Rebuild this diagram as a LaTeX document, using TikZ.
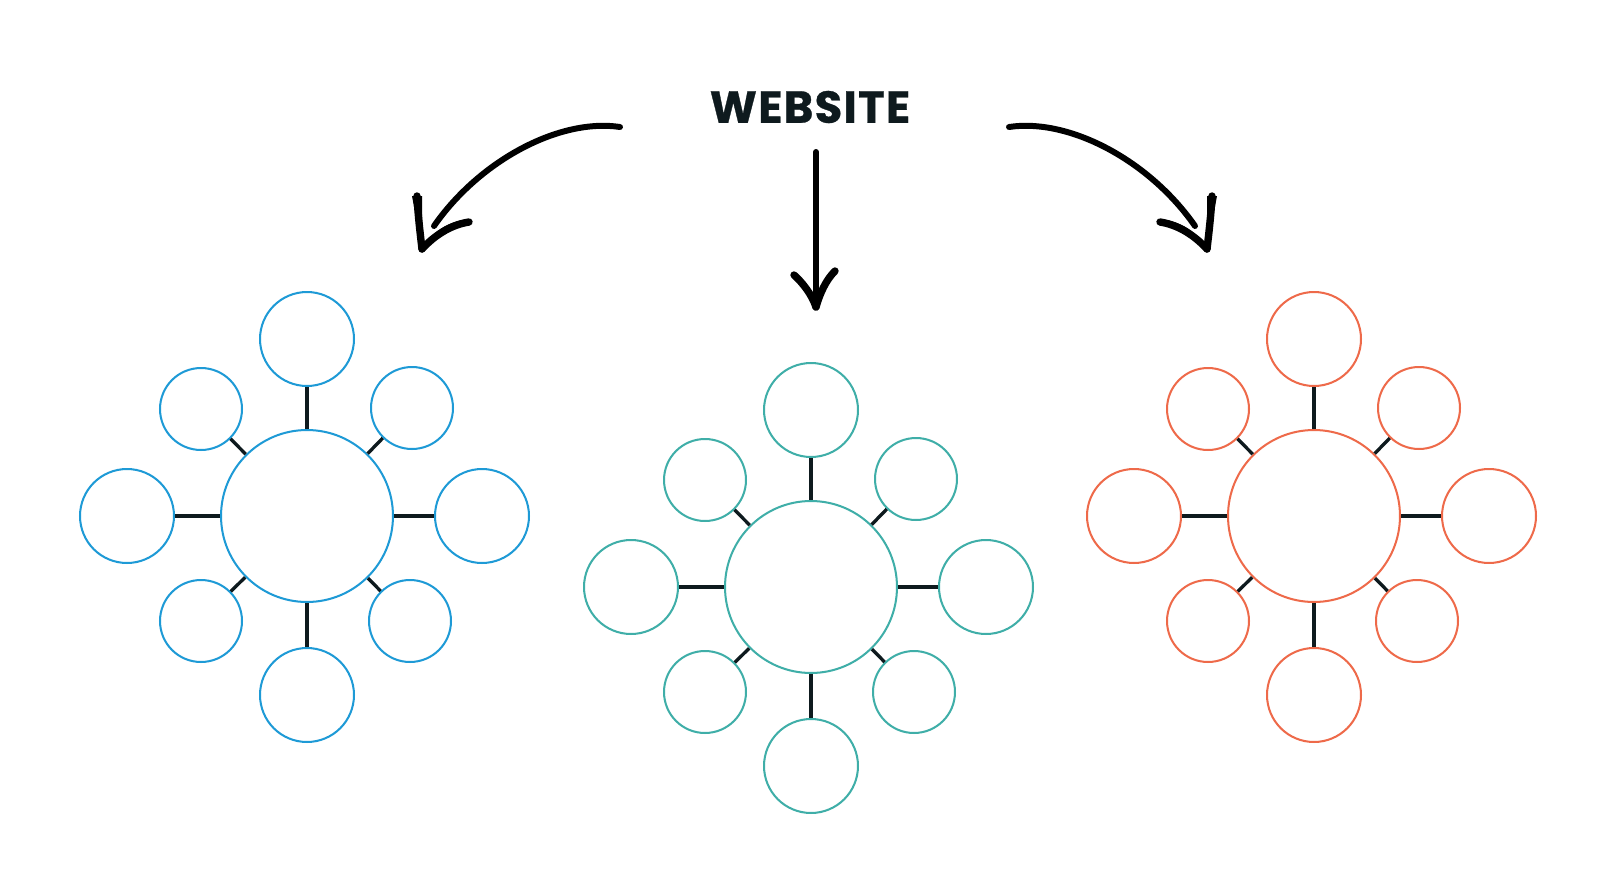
\documentclass[tikz,border=0pt]{standalone}
\usepackage{fontspec}
\newfontfamily\titlefont{Poppins}[LetterSpace=3, BoldFeatures={FakeBold=0.7}]
\definecolor{cblue}{HTML}{1E9AD6}
\definecolor{cteal}{HTML}{3FAEA8}
\definecolor{corange}{HTML}{EE6A4A}
\definecolor{ink}{HTML}{0E1A1E}
\tikzset{
  hub/.style={circle, draw=#1, line width=1.15pt, minimum size=3.44cm, inner sep=0pt, fill=white},
  bigsat/.style={circle, draw=#1, line width=1.15pt, minimum size=1.88cm, inner sep=0pt, fill=white},
  smallsat/.style={circle, draw=#1, line width=1.15pt, minimum size=1.64cm, inner sep=0pt, fill=white},
  spoke/.style={draw=ink, line width=1.9pt},
  handline/.style={draw=black, line width=3.4pt, line cap=round},
  barb/.style={draw=black, line width=4.2pt, line cap=round, line join=round},
}
\newcommand\mycluster[4]{%
  \node[hub=#4] (#1c) at (#2,#3) {};
  \node[bigsat=#4] (#1t) at (#2,#3-177) {};
  \node[bigsat=#4] (#1b) at (#2,#3+179) {};
  \node[bigsat=#4] (#1l) at (#2-180,#3) {};
  \node[bigsat=#4] (#1r) at (#2+175,#3) {};
  \node[smallsat=#4] (#1tl) at (#2-106,#3-107) {};
  \node[smallsat=#4] (#1tr) at (#2+105,#3-108) {};
  \node[smallsat=#4] (#1bl) at (#2-106,#3+105) {};
  \node[smallsat=#4] (#1br) at (#2+103,#3+105) {};
  \foreach \s in {t,b,l,r,tl,tr,bl,br}{\draw[spoke] (#1c) -- (#1\s);}
}
\begin{document}
\begin{tikzpicture}[x=0.02cm,y=-0.02cm]
\useasboundingbox (0,0) rectangle (1600,886);
\node[text=ink, inner sep=0pt] (title) at (810,107) {\titlefont\bfseries\fontsize{25.5}{30}\selectfont WEBSITE};

\mycluster{A}{307}{516}{cblue}
\mycluster{B}{811}{587}{cteal}
\mycluster{C}{1314}{516}{corange}

% arrow anchors
\coordinate (lstart) at (620,127);
\coordinate (lend) at (434,226);
\coordinate (ltip) at (422,249);
\coordinate (mstart) at (816,152);
\coordinate (mtip) at (816,307);
\coordinate (rstart) at (1009,127);
\coordinate (rend) at (1195,226);
\coordinate (rtip) at (1207,249);

% left arrow
\draw[handline] (lstart) .. controls (560,118) and (480,160) .. (lend);
\draw[barb] (417,196) .. controls (418,215) and (420,232) .. (ltip);
\draw[barb] (469,222) .. controls (450,225) and (434,236) .. (ltip);
\fill (412,196) -- (422,196) -- (ltip) -- cycle;
\fill (469,219) .. controls (448,221) and (432,232) .. (ltip) -- (442,236) -- cycle;
% middle arrow
\draw[handline] (mstart) -- (mtip);
\draw[barb] (794,275) .. controls (803,283) and (812,295) .. (mtip);
\draw[barb] (835,271) .. controls (826,280) and (820,293) .. (mtip);
\fill (835,268) .. controls (824,280) and (818,293) .. (mtip) -- (822,288) -- cycle;
% right arrow
\draw[handline] (rstart) .. controls (1069,118) and (1149,160) .. (rend);
\draw[barb] (1212,196) .. controls (1211,215) and (1209,232) .. (rtip);
\draw[barb] (1160,222) .. controls (1179,225) and (1195,236) .. (rtip);
\fill (1217,196) -- (1207,196) -- (rtip) -- cycle;
\fill (1160,219) .. controls (1181,221) and (1197,232) .. (rtip) -- (1187,236) -- cycle;
\end{tikzpicture}
\end{document}
